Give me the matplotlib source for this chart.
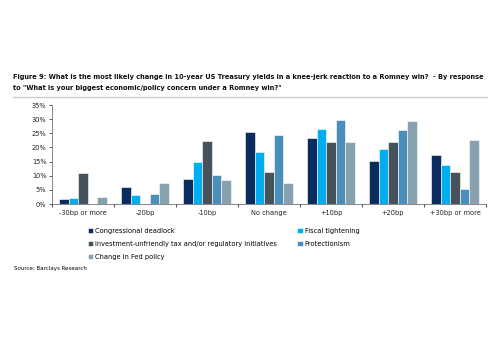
import numpy as np
import matplotlib
matplotlib.use("Agg")
import matplotlib.pyplot as plt
from matplotlib.ticker import FuncFormatter

categories = ["-30bp or more", "-20bp", "-10bp", "No change", "+10bp", "+20bp", "+30bp or more"]
series_names = ["Congressional deadlock", "Fiscal tightening",
                "Investment-unfriendly tax and/or regulatory initiatives",
                "Protectionism", "Change in Fed policy"]
congressional = [1.8, 5.9, 9.0, 25.5, 23.5, 15.2, 17.4]
fiscal = [2.1, 3.3, 15.0, 18.5, 26.5, 19.6, 13.8]
investment = [11.1, 0.0, 22.3, 11.2, 22.1, 22.1, 11.2]
protectionism = [0.0, 3.4, 10.4, 24.5, 29.8, 26.2, 5.2]
fed_policy = [2.5, 7.5, 8.4, 7.6, 21.9, 29.3, 22.6]
colors = ["#0a2c5e", "#00aeef", "#46535c", "#4a8fba", "#87a1ae"]

plt.rcParams['font.family'] = ['DejaVu Sans']
fig = plt.figure(figsize=(5, 3.5), dpi=100)
ax = fig.add_axes([0.104, 0.417, 0.868, 0.283])

data = [congressional, fiscal, investment, protectionism, fed_policy]
x = np.arange(len(categories))
w = 0.152
handles = []
for i, (vals, col) in enumerate(zip(data, colors)):
    b = ax.bar(x + (i - 2) * w, vals, w, color=col, edgecolor="white", linewidth=0.4,
               label=series_names[i])
    handles.append(b)

ax.set_xlim(-0.5, len(categories) - 0.5)
ax.set_ylim(0, 35)
ax.set_yticks(np.arange(0, 36, 5))
ax.yaxis.set_major_formatter(FuncFormatter(lambda v, p: "%d%%" % v))
ax.set_xticks(x)
ax.set_xticklabels(categories)
ax.set_xticks(np.arange(-0.5, len(categories), 1), minor=True)
ax.tick_params(axis="x", which="major", length=0, labelsize=4.8, pad=4, colors="#222222")
ax.tick_params(axis="x", which="minor", length=2.5, width=0.5, direction="out")
ax.tick_params(axis="y", length=2, width=0.5, labelsize=4.8, pad=2, colors="#222222")
for s in ["top", "right"]:
    ax.spines[s].set_visible(False)
for s in ["left", "bottom"]:
    ax.spines[s].set_linewidth(0.5)
    ax.spines[s].set_color("#555555")

fig.text(0.026, 0.765,
         "Figure 9: What is the most likely change in 10-year US Treasury yields in a knee-jerk reaction to a Romney win?  - By response\n"
         "to \"What is your biggest economic/policy concern under a Romney win?\"",
         fontsize=4.8, fontweight="bold", va="center", ha="left", linespacing=2.0,
         color="#111111")
fig.add_artist(plt.Line2D([0.026, 0.974], [0.722, 0.722], color="#cccccc", linewidth=1.0))

order = [0, 2, 4, 1, 3]
leg = fig.legend([handles[i] for i in order], [series_names[i] for i in order],
                 ncol=2, loc="upper left", bbox_to_anchor=(0.176, 0.35),
                 frameon=False, fontsize=4.8, handlelength=0.8, handleheight=0.8,
                 handletextpad=0.3, columnspacing=3.0, labelspacing=1.1,
                 borderaxespad=0, borderpad=0)

fig.text(0.028, 0.232, "Source: Barclays Research", fontsize=4.0, va="center", ha="left")

fig.savefig("out.png", dpi=100)
